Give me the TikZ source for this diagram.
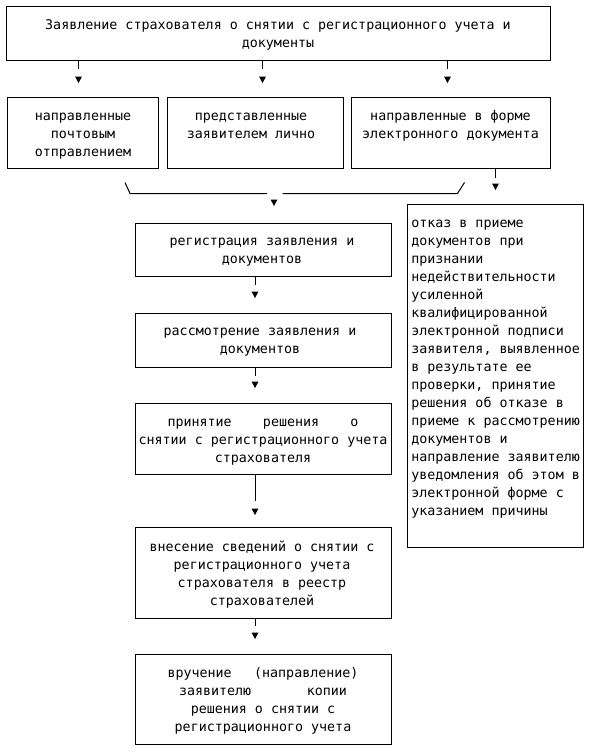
\documentclass[tikz,border=0pt]{standalone}
\usepackage{fontspec}
\newfontfamily\monofont{DejaVu Sans Mono}
\usetikzlibrary{calc}
\tikzset{
  box/.style={draw=black, line width=0.75pt, inner sep=0pt, rectangle},
  txt/.style={inner sep=0pt, anchor=base, font=\monofont\fontsize{10pt}{13.5pt}\selectfont},
  stub/.style={draw=black, line width=0.75pt},
  bracket/.style={draw=black, line width=0.75pt},
}
\newcommand\tridown[1]{\fill #1 ++(-3.5,0) -- ++(7,0) -- ++(-3.5,6.5) -- cycle;}
\newcommand\downarr[3]{\draw[stub] #1 -- ++(0,#2); \tridown{#1 ++(0,#3)}}
\begin{document}
\begin{tikzpicture}[x=0.75pt,y=-0.75pt]
\useasboundingbox (0,0) rectangle (598,753);
% boxes
\node[box, minimum width=408pt, minimum height=40.5pt] (top) at (278,33) {};
\node[box, minimum width=113.25pt, minimum height=53.25pt] (b1) at (82.5,132.5) {};
\node[box, minimum width=132pt, minimum height=53.25pt] (b2) at (255,132.5) {};
\node[box, minimum width=149.25pt, minimum height=53.25pt] (b3) at (450.5,132.5) {};
\node[box, minimum width=192pt, minimum height=39.75pt] (regis) at (263,249.5) {};
\node[box, minimum width=192pt, minimum height=40.5pt] (rassm) at (263,340) {};
\node[box, minimum width=192pt, minimum height=53.25pt] (prin) at (263,438.5) {};
\node[box, minimum width=192pt, minimum height=68.25pt] (vnes) at (263,572.5) {};
\node[box, minimum width=192pt, minimum height=67.5pt] (vruch) at (263,699) {};
\node[box, minimum width=132pt, minimum height=257.25pt] (otkaz) at (495,375.5) {};
% texts
\node[txt] (topt) at (278,29) {\parbox[t]{390pt}{\centering Заявление страхователя о снятии с регистрационного учета и\\документы}};
\node[txt] (b1t) at (83,120) {\parbox[t]{105pt}{\centering направленные\\почтовым\\отправлением}};
\node[txt] (b2t) at (251,120) {\parbox[t]{127.5pt}{\centering представленные\\заявителем лично}};
\node[txt] (b3t) at (450.5,120) {\parbox[t]{142.5pt}{\centering направленные в форме\\электронного документа}};
\node[txt] (regist) at (262,245) {\parbox[t]{187.5pt}{\centering регистрация заявления и\\документов}};
\node[txt] (rassmt) at (260,335) {\parbox[t]{187.5pt}{\centering рассмотрение заявления и\\документов}};
\node[txt] (print) at (263,426) {\parbox[t]{187.5pt}{\centering \makebox[143.25pt]{принятие\hfill решения\hfill о}\\снятии с регистрационного учета\\страхователя}};
\node[txt] (vnest) at (262,551) {\parbox[t]{187.5pt}{\centering внесение сведений о снятии с\\регистрационного учета\\страхователя в реестр\\страхователей}};
\node[txt] (vrucht) at (263,677) {\parbox[t]{187.5pt}{\centering \makebox[143.25pt]{вручение\hfill (направление)}\\\makebox[126pt]{заявителю\hfill копии}\\решения о снятии с\\регистрационного учета}};
\node[txt, anchor=base west] (otkazt) at (411,227) {\parbox[t]{130pt}{\raggedright отказ в приеме\\документов при\\признании\\недействительности\\усиленной\\квалифицированной\\электронной подписи\\заявителя, выявленное\\в результате ее\\проверки, принятие\\решения об отказе в\\приеме к рассмотрению\\документов и\\направление заявителю\\уведомления об этом в\\электронной форме с\\указанием причины}};
% connectors
\downarr{($(top.south west)+(73,0)$)}{8}{16}
\downarr{($(top.south west)+(257,0)$)}{8}{16}
\downarr{($(top.south west)+(442,0)$)}{8}{16}
\downarr{($(b3.south east)+(-55,0)$)}{9}{15}
\coordinate (brL) at ($(b1.south)+(42.5,14)$);
\coordinate (brR) at ($(b3.south west)+(114,14)$);
\draw[bracket] (brL) -- ++(5,11) -- ++(137,0);
\draw[bracket] (brR) -- ++(-7,11) -- ++(-175,0);
\tridown{($(regis.north)+(11,-23)$)}
\downarr{($(regis.south)+(-8,0)$)}{8}{15}
\downarr{($(rassm.south)+(-8,0)$)}{8}{14}
\downarr{($(prin.south)+(-8,0)$)}{26}{34}
\downarr{($(vnes.south)+(-8,0)$)}{7}{14}
\end{tikzpicture}
\end{document}
